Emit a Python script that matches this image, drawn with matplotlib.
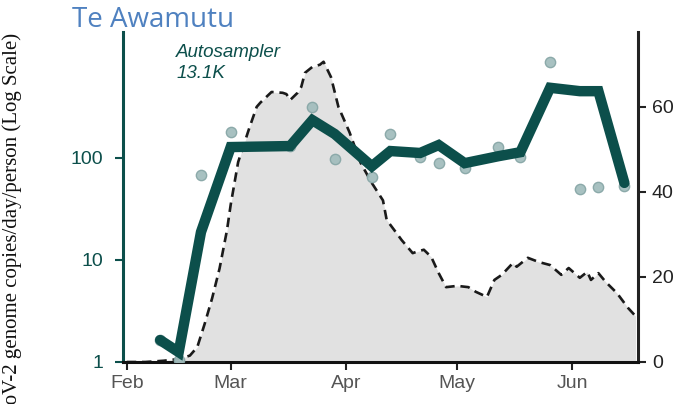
import matplotlib
matplotlib.use("Agg")
import matplotlib.pyplot as plt
import numpy as np
import pandas as pd

# ---- data ----
case_dates = ["2022-02-01", "2022-02-06", "2022-02-11", "2022-02-15", "2022-02-18", "2022-02-20",
              "2022-02-22", "2022-02-24", "2022-02-26", "2022-02-28", "2022-03-01", "2022-03-03",
              "2022-03-06", "2022-03-08", "2022-03-09", "2022-03-12", "2022-03-15", "2022-03-16",
              "2022-03-17", "2022-03-19", "2022-03-20", "2022-03-21", "2022-03-23", "2022-03-25",
              "2022-03-26", "2022-03-28", "2022-03-30", "2022-04-02", "2022-04-05", "2022-04-08",
              "2022-04-11", "2022-04-12", "2022-04-15", "2022-04-16", "2022-04-19", "2022-04-20",
              "2022-04-22", "2022-04-24", "2022-04-26", "2022-04-28", "2022-05-01", "2022-05-04",
              "2022-05-06", "2022-05-09", "2022-05-11", "2022-05-13", "2022-05-16", "2022-05-17",
              "2022-05-20", "2022-05-23", "2022-05-26", "2022-05-29", "2022-05-31", "2022-06-03",
              "2022-06-05", "2022-06-06", "2022-06-08", "2022-06-10", "2022-06-13", "2022-06-16",
              "2022-06-18"]
case_values = [0, 0, 0.3, 0.7, 1.5, 3.5,
               9, 15, 22, 31, 37, 47,
               55, 60, 61, 63.5, 63.3, 63,
               61.6, 63.3, 64.7, 68, 69.4, 69.9,
               70.6, 67, 60, 54, 46.8, 42.1,
               38, 33.4, 29.9, 28.7, 25.6, 25.9,
               26.4, 24.7, 20.9, 17.6, 17.9, 17.6,
               16.5, 15.3, 19.3, 20.5, 23.3, 22.4,
               24.5, 23.5, 22.8, 20.5, 22.1, 19.8,
               21.2, 19.3, 20.9, 18.8, 16.2, 12.7,
               10.8]

sample_dates = ["2022-02-10", "2022-02-15", "2022-02-21", "2022-03-01", "2022-03-17", "2022-03-23",
                "2022-03-29", "2022-04-08", "2022-04-13", "2022-04-21", "2022-04-26", "2022-05-03",
                "2022-05-12", "2022-05-18", "2022-05-26", "2022-06-03", "2022-06-08", "2022-06-15"]
sample_values = [1.64, 1.05, 68, 180, 130, 316,
                 98, 65, 172, 102, 89, 80,
                 128, 102, 873, 50, 52, 53]
trend_values = [1.64, 1.25, 18.8, 128, 131, 235,
                172, 83, 117, 112, 134, 89,
                104, 114, 488, 452, 452, 57]

left_ticks = [1, 10, 100]
right_ticks = [0, 20, 40, 60]
month_ticks = ["2022-02-01", "2022-03-01", "2022-04-01", "2022-05-01", "2022-06-01"]
month_labels = ["Feb", "Mar", "Apr", "May", "Jun"]

title = "Te Awamutu"
ylabel = "SARS-CoV-2 genome copies/day/person (Log Scale)"
note = "Autosampler\n13.1K"

# ---- styling ----
TEAL = "#0c4f4b"
W, H = 682, 404
fig = plt.figure(figsize=(W / 100, H / 100), dpi=100)
ax = fig.add_axes([123 / W, 1 - 362 / H, (638 - 123) / W, (362 - 32) / H])
ax2 = ax.twinx()
ax.set_zorder(ax2.get_zorder() + 1)
ax.patch.set_visible(False)

cd = pd.to_datetime(case_dates)
sd = pd.to_datetime(sample_dates)

ax2.fill_between(cd, 0, case_values, color="#e1e1e1", lw=0, zorder=1)
ax2.plot(cd, case_values, color="#1a1a1a", lw=1.9, dashes=(3.6, 2.2), zorder=2)
ax2.set_ylim(0, 77.6)
ax2.set_yticks(right_ticks)
ax2.set_yticklabels([str(t) for t in right_ticks])

ax.scatter(sd, sample_values, s=55, color="#a3bebe", edgecolors="#88a7a7", linewidths=1.0, zorder=3, alpha=0.95)
ax.plot(sd, trend_values, color=TEAL, lw=7.5, solid_capstyle="round", solid_joinstyle="miter", zorder=4)
ax.set_yscale("log")
ax.set_ylim(1, 1719)
ax.set_yticks(left_ticks)
ax.set_yticklabels([str(t) for t in left_ticks])
ax.yaxis.set_minor_locator(matplotlib.ticker.NullLocator())

ax.set_xlim(pd.Timestamp("2022-01-31 00:00"), pd.Timestamp("2022-06-18 16:00"))
ax.set_xticks(pd.to_datetime(month_ticks))
ax.set_xticklabels(month_labels)

font = "Liberation Sans"
for lab in ax.get_yticklabels():
    lab.set_fontfamily(font); lab.set_fontsize(14); lab.set_color(TEAL)
for lab in ax2.get_yticklabels():
    lab.set_fontfamily(font); lab.set_fontsize(14); lab.set_color("#222222")
for lab in ax.get_xticklabels():
    lab.set_fontfamily(font); lab.set_fontsize(14); lab.set_color("#555555")

ax.tick_params(axis="y", which="major", length=6, width=1.5, color=TEAL, pad=8)
ax.tick_params(axis="x", length=6, width=1.5, color="#222222", pad=3)
ax2.tick_params(axis="y", length=6, width=1.5, color="#222222", pad=4)

for a in (ax, ax2):
    a.spines["top"].set_visible(False)
ax.spines["left"].set_color(TEAL)
ax.spines["left"].set_linewidth(2.2)
ax.spines["right"].set_visible(False)
ax.spines["bottom"].set_color("#111111")
ax.spines["bottom"].set_linewidth(2.2)
ax2.spines["left"].set_visible(False)
ax2.spines["bottom"].set_visible(False)
ax2.spines["right"].set_color("#222222")
ax2.spines["right"].set_linewidth(2.2)

ax.text(0.103, 0.965, note, transform=ax.transAxes, ha="left", va="top",
        fontsize=13.5, style="italic", color=TEAL, family=font, linespacing=1.35)

fig.text(72 / W, 1 - 6 / H, title, ha="left", va="top", fontsize=20, color="#4f81c0",
         family="Open Sans")
fig.text(12 / W, 1 - 33 / H, ylabel, rotation=90, ha="center", va="top",
         fontsize=15, family="Liberation Serif", color="#111111")

fig.savefig("out.png", dpi=100)
